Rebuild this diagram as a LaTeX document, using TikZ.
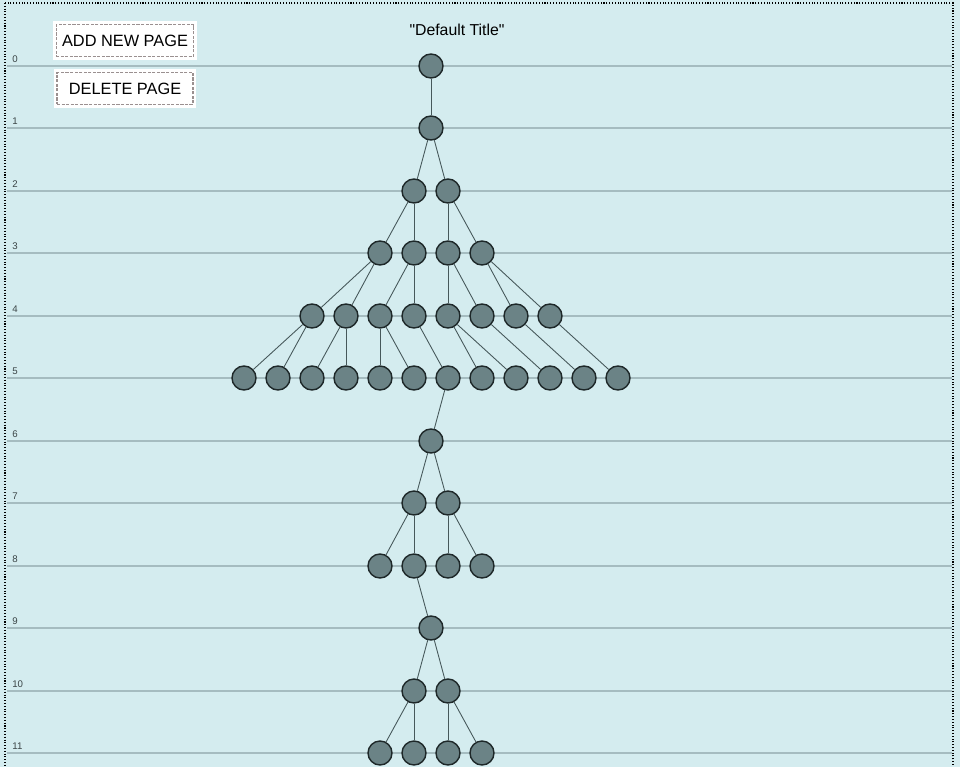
\documentclass[tikz,border=0pt]{standalone}
\usepackage{fontspec}
\setmainfont{Liberation Sans}
\usetikzlibrary{positioning}

\definecolor{pagebg}{HTML}{D4ECEF}
\definecolor{rulecol}{HTML}{A5BCC0}
\definecolor{nodefill}{HTML}{6B8386}
\definecolor{nodeedge}{HTML}{1E2829}
\definecolor{linkcol}{HTML}{46585A}
\definecolor{dashcol}{HTML}{9A9090}
\definecolor{lblcol}{HTML}{3A4445}

\begin{document}
\begin{tikzpicture}[
    x=0.02cm, y=-0.02cm,
    ruleline/.style={draw=rulecol, line width=0.7pt},
    rowlbl/.style={anchor=south west, inner sep=0pt, text=lblcol, font=\fontsize{5.5}{6}\selectfont},
    btn/.style={draw=dashcol, dash pattern=on 1.8pt off 0.8pt, line width=0.7pt, fill=white, preaction={draw=white, solid, line width=0.14cm}, minimum width=2.72cm, minimum height=0.64cm, font=\fontsize{9.3}{11}\selectfont},
    pg/.style={circle, draw=nodeedge, fill=nodefill, line width=0.8pt, minimum size=0.48cm, inner sep=0pt},
    link/.style={draw=linkcol, line width=0.5pt}
]
\fill[pagebg] (0,0) rectangle (960,767);
\useasboundingbox (0,0) rectangle (960,767);
\draw[densely dotted, line width=0.6pt] (5,3) rectangle (953,780);

% ruled lines and row numbers
\draw[ruleline] (7,66) -- (952,66);
\draw[ruleline] (7,128) -- (952,128);
\draw[ruleline] (7,191) -- (952,191);
\draw[ruleline] (7,253) -- (952,253);
\draw[ruleline] (7,316) -- (952,316);
\draw[ruleline] (7,378) -- (952,378);
\draw[ruleline] (7,441) -- (952,441);
\draw[ruleline] (7,503) -- (952,503);
\draw[ruleline] (7,566) -- (952,566);
\draw[ruleline] (7,628) -- (952,628);
\draw[ruleline] (7,691) -- (952,691);
\draw[ruleline] (7,753) -- (952,753);

\node[rowlbl] (n0) at (12,63) {0};
\node[rowlbl] (n1) at (12,125) {1};
\node[rowlbl] (n2) at (12,188) {2};
\node[rowlbl] (n3) at (12,250) {3};
\node[rowlbl] (n4) at (12,313) {4};
\node[rowlbl] (n5) at (12,375) {5};
\node[rowlbl] (n6) at (12,438) {6};
\node[rowlbl] (n7) at (12,500) {7};
\node[rowlbl] (n8) at (12,563) {8};
\node[rowlbl] (n9) at (12,625) {9};
\node[rowlbl] (n10) at (12,688) {10};
\node[rowlbl] (n11) at (12,750) {11};

\node[font=\fontsize{9}{11}\selectfont] (title) at (457,30) {\textquotedbl Default Title\textquotedbl};
\node[btn] (addpg) at (125,40.5) {ADD NEW PAGE};
\node[btn] (delpg) at (125,88.5) {DELETE PAGE};

% pages
\node[pg] (r0) at (431,66) {};
\node[pg] (r1) at (431,128) {};
\node[pg] (r2a) at (414,191) {};
\node[pg] (r2b) at (448,191) {};
\node[pg] (r3a) at (380,253) {};
\node[pg] (r3b) at (414,253) {};
\node[pg] (r3c) at (448,253) {};
\node[pg] (r3d) at (482,253) {};
\node[pg] (r4a) at (312,316) {};
\node[pg] (r4b) at (346,316) {};
\node[pg] (r4c) at (380,316) {};
\node[pg] (r4d) at (414,316) {};
\node[pg] (r4e) at (448,316) {};
\node[pg] (r4f) at (482,316) {};
\node[pg] (r4g) at (516,316) {};
\node[pg] (r4h) at (550,316) {};
\node[pg] (r5a) at (244,378) {};
\node[pg] (r5b) at (278,378) {};
\node[pg] (r5c) at (312,378) {};
\node[pg] (r5d) at (346,378) {};
\node[pg] (r5e) at (380,378) {};
\node[pg] (r5f) at (414,378) {};
\node[pg] (r5g) at (448,378) {};
\node[pg] (r5h) at (482,378) {};
\node[pg] (r5i) at (516,378) {};
\node[pg] (r5j) at (550,378) {};
\node[pg] (r5k) at (584,378) {};
\node[pg] (r5l) at (618,378) {};
\node[pg] (r6) at (431,441) {};
\node[pg] (r7a) at (414,503) {};
\node[pg] (r7b) at (448,503) {};
\node[pg] (r8a) at (380,566) {};
\node[pg] (r8b) at (414,566) {};
\node[pg] (r8c) at (448,566) {};
\node[pg] (r8d) at (482,566) {};
\node[pg] (r9) at (431,628) {};
\node[pg] (r10a) at (414,691) {};
\node[pg] (r10b) at (448,691) {};
\node[pg] (r11a) at (380,753) {};
\node[pg] (r11b) at (414,753) {};
\node[pg] (r11c) at (448,753) {};
\node[pg] (r11d) at (482,753) {};

% links
\draw[link] (r0) -- (r1);
\draw[link] (r1) -- (r2a);
\draw[link] (r1) -- (r2b);
\draw[link] (r2a) -- (r3a);
\draw[link] (r2a) -- (r3b);
\draw[link] (r2b) -- (r3c);
\draw[link] (r2b) -- (r3d);
\draw[link] (r3a) -- (r4a);
\draw[link] (r3a) -- (r4b);
\draw[link] (r3b) -- (r4c);
\draw[link] (r3b) -- (r4d);
\draw[link] (r3c) -- (r4e);
\draw[link] (r3c) -- (r4f);
\draw[link] (r3d) -- (r4g);
\draw[link] (r3d) -- (r4h);
\draw[link] (r4a) -- (r5a);
\draw[link] (r4a) -- (r5b);
\draw[link] (r4b) -- (r5c);
\draw[link] (r4b) -- (r5d);
\draw[link] (r4c) -- (r5e);
\draw[link] (r4c) -- (r5f);
\draw[link] (r4d) -- (r5g);
\draw[link] (r4e) -- (r5h);
\draw[link] (r4e) -- (r5i);
\draw[link] (r4f) -- (r5j);
\draw[link] (r4g) -- (r5k);
\draw[link] (r4h) -- (r5l);
\draw[link] (r5g) -- (r6);
\draw[link] (r6) -- (r7a);
\draw[link] (r6) -- (r7b);
\draw[link] (r7a) -- (r8a);
\draw[link] (r7a) -- (r8b);
\draw[link] (r7b) -- (r8c);
\draw[link] (r7b) -- (r8d);
\draw[link] (r8b) -- (r9);
\draw[link] (r9) -- (r10a);
\draw[link] (r9) -- (r10b);
\draw[link] (r10a) -- (r11a);
\draw[link] (r10a) -- (r11b);
\draw[link] (r10b) -- (r11c);
\draw[link] (r10b) -- (r11d);
\end{tikzpicture}
\end{document}
